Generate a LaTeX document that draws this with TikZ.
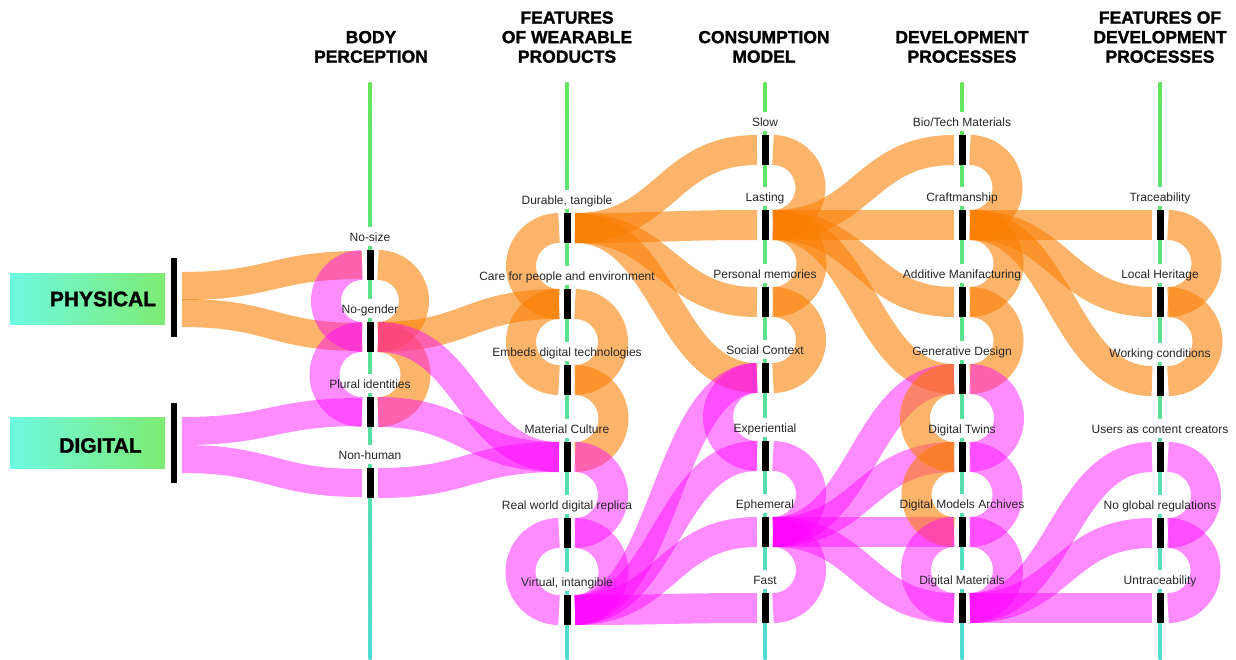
\documentclass[tikz,border=0pt]{standalone}
\usepackage{fontspec}
\setmainfont{Liberation Sans}
\newfontfamily\heavyfont[FakeBold=1.4]{Liberation Sans Bold}
\usetikzlibrary{calc}

\definecolor{physcol}{RGB}{250,125,0}
\definecolor{digicol}{RGB}{255,0,255}
\definecolor{axgreen}{RGB}{100,230,90}
\definecolor{axcyan}{RGB}{80,220,210}
\definecolor{boxcyan}{RGB}{110,250,225}
\definecolor{boxgreen}{RGB}{125,235,115}

\tikzset{
  axisline/.style={top color=axgreen, bottom color=axcyan},
  itembar/.style={rectangle, fill=black, minimum width=7pt, minimum height=30pt, inner sep=0pt, outer xsep=4.5pt},
  catbar/.style={rectangle, fill=black, minimum width=6pt, inner sep=0pt},
  catbox/.style={rectangle, minimum width=155pt, minimum height=51pt, inner sep=0pt, left color=boxcyan, right color=boxgreen},
  cattext/.style={font=\heavyfont\fontsize{21}{21}\selectfont, inner sep=0pt},
  head/.style={font=\heavyfont\fontsize{17.5}{19.5}\selectfont, align=center, inner sep=0pt, anchor=south},
  tag/.style={font=\fontsize{12}{14}\selectfont, text=black!85, inner sep=0pt, anchor=base},
  physflow/.style={draw=physcol, opacity=0.58, line width=30pt},
  digiflow/.style={draw=digicol, opacity=0.45, line width=30pt}
}

% A flow from one bar to the next column, and a loop between two bars of one column.
\newcommand{\band}[3]{\draw[#3] let \p1=#1, \p2=#2 in (\p1) .. controls (\x1/2+\x2/2,\y1) and (\x1/2+\x2/2,\y2) .. (\p2);}
\newcommand{\ringR}[3]{\draw[#3] let \p1=#1, \p2=#2, \n1={(\y1-\y2)/2} in (\p1) arc[start angle=90, end angle=-90, radius=\n1];}
\newcommand{\ringL}[3]{\draw[#3] let \p1=#1, \p2=#2, \n1={(\y1-\y2)/2} in (\p1) arc[start angle=90, end angle=270, radius=\n1];}

\begin{document}
\begin{tikzpicture}[x=1pt, y=1pt]
        \useasboundingbox (0,0) rectangle (1236,-659);
        % Draw the axes.
        \shade[axisline] (368.5,-82) rectangle (371.5,-659);
        \shade[axisline] (565.5,-82) rectangle (568.5,-659);
        \shade[axisline] (763.5,-82) rectangle (766.5,-659);
        \shade[axisline] (960.5,-82) rectangle (963.5,-659);
        \shade[axisline] (1158.5,-82) rectangle (1161.5,-659);
        % Specify the headings.
        \node[head] (bodyhead) at (371,-63) {BODY\\PERCEPTION};
        \node[head] (wearhead) at (567,-63) {FEATURES\\OF WEARABLE\\PRODUCTS};
        \node[head] (conshead) at (764,-63) {CONSUMPTION\\MODEL};
        \node[head] (devhead) at (962,-63) {DEVELOPMENT\\PROCESSES};
        \node[head] (feathead) at (1160,-63) {FEATURES OF\\DEVELOPMENT\\PROCESSES};
        % Specify the sources.
        \node[catbox] (physical) at (87.5,-298.7) {};
        \node[cattext] (physicaltext) at (103,-299) {PHYSICAL};
        \node[catbar, minimum height=79pt] (physbar) at (174,-297.8) {};
        \node[catbox] (digital) at (87.5,-443.3) {};
        \node[cattext] (digitaltext) at (100.5,-445.5) {DIGITAL};
        \node[catbar, minimum height=80pt] (digibar) at (174,-443.3) {};
        \coordinate (physa) at (182,-286);
        \coordinate (physb) at (182,-313);
        \coordinate (digia) at (182,-431);
        \coordinate (digib) at (182,-459);
        % Specify the body perception bars.
        \node[itembar] (nosize) at (370,-265) {};
        \node[itembar] (nogender) at (370,-337) {};
        \node[itembar] (plural) at (370,-412) {};
        \node[itembar] (nonhuman) at (370,-483) {};
        % Specify the wearable product bars.
        \node[itembar] (durable) at (567,-228) {};
        \node[itembar] (care) at (567,-304) {};
        \node[itembar] (embeds) at (567,-380) {};
        \node[itembar] (material) at (567,-457) {};
        \node[itembar] (replica) at (567,-533) {};
        \node[itembar] (virtual) at (567,-610) {};
        % Specify the consumption model bars.
        \node[itembar] (slow) at (765,-150) {};
        \node[itembar] (lasting) at (765,-225) {};
        \node[itembar] (memories) at (765,-302) {};
        \node[itembar] (social) at (765,-378) {};
        \node[itembar] (experiential) at (765,-456) {};
        \node[itembar] (ephemeral) at (765,-532) {};
        \node[itembar] (fast) at (765,-608) {};
        % Specify the development process bars.
        \node[itembar] (biotech) at (962,-150) {};
        \node[itembar] (craft) at (962,-225) {};
        \node[itembar] (additive) at (962,-302) {};
        \node[itembar] (generative) at (962,-379) {};
        \node[itembar] (twins) at (962,-457) {};
        \node[itembar] (archives) at (962,-532) {};
        \node[itembar] (digmat) at (962,-608) {};
        % Specify the development feature bars.
        \node[itembar] (trace) at (1160,-225) {};
        \node[itembar] (heritage) at (1160,-302) {};
        \node[itembar] (working) at (1160,-381) {};
        \node[itembar] (users) at (1160,-457) {};
        \node[itembar] (noglobal) at (1160,-533) {};
        \node[itembar] (untrace) at (1160,-608) {};
        % Draw the flows from the sources.
        \band{(physa)}{(nosize.west)}{physflow, line width=28pt}
        \band{(physb)}{(nogender.west)}{physflow, line width=28pt}
        \band{(digia)}{(plural.west)}{digiflow, line width=28pt}
        \band{(digib)}{(nonhuman.west)}{digiflow, line width=28pt}
        % Draw the body perception loops and flows.
        \ringL{(nosize.west)}{(nogender.west)}{digiflow}
        \ringL{(nogender.west)}{(plural.west)}{digiflow}
        \ringR{(nosize.east)}{(nogender.east)}{physflow}
        \ringR{(nogender.east)}{(plural.east)}{physflow}
        \band{(nogender.east)}{(care.west)}{physflow}
        \band{(nogender.east)}{(material.west)}{digiflow}
        \band{(plural.east)}{(material.west)}{digiflow}
        \band{(nonhuman.east)}{(material.west)}{digiflow}
        % Draw the wearable product loops and flows.
        \ringL{(durable.west)}{(care.west)}{physflow}
        \ringL{(care.west)}{(embeds.west)}{physflow}
        \ringL{(replica.west)}{(virtual.west)}{digiflow}
        \ringR{(care.east)}{(embeds.east)}{physflow}
        \ringR{(embeds.east)}{(material.east)}{physflow}
        \ringR{(material.east)}{(replica.east)}{digiflow}
        \ringR{(replica.east)}{(virtual.east)}{digiflow}
        \band{(durable.east)}{(slow.west)}{physflow}
        \band{(durable.east)}{(lasting.west)}{physflow}
        \band{(durable.east)}{(memories.west)}{physflow}
        \band{(durable.east)}{(social.west)}{physflow}
        \band{(virtual.east)}{(social.west)}{digiflow}
        \band{(virtual.east)}{(experiential.west)}{digiflow}
        \band{(virtual.east)}{(ephemeral.west)}{digiflow}
        \band{(virtual.east)}{(fast.west)}{digiflow}
        % Draw the consumption model loops and flows.
        \ringL{(social.west)}{(experiential.west)}{digiflow}
        \ringR{(slow.east)}{(lasting.east)}{physflow}
        \ringR{(lasting.east)}{(memories.east)}{physflow}
        \ringR{(memories.east)}{(social.east)}{physflow}
        \ringR{(experiential.east)}{(ephemeral.east)}{digiflow}
        \ringR{(ephemeral.east)}{(fast.east)}{digiflow}
        \band{(lasting.east)}{(biotech.west)}{physflow}
        \band{(lasting.east)}{(craft.west)}{physflow}
        \band{(lasting.east)}{(additive.west)}{physflow}
        \band{(lasting.east)}{(generative.west)}{physflow}
        \band{(ephemeral.east)}{(generative.west)}{digiflow}
        \band{(ephemeral.east)}{(twins.west)}{digiflow}
        \band{(ephemeral.east)}{(archives.west)}{digiflow}
        \band{(ephemeral.east)}{(digmat.west)}{digiflow}
        % Draw the development process loops and flows.
        \ringL{(generative.west)}{(twins.west)}{physflow}
        \ringL{(twins.west)}{(archives.west)}{physflow}
        \ringL{(archives.west)}{(digmat.west)}{digiflow}
        \ringR{(biotech.east)}{(craft.east)}{physflow}
        \ringR{(craft.east)}{(additive.east)}{physflow}
        \ringR{(additive.east)}{(generative.east)}{physflow}
        \ringR{(generative.east)}{(twins.east)}{digiflow}
        \ringR{(twins.east)}{(archives.east)}{digiflow}
        \ringR{(archives.east)}{(digmat.east)}{digiflow}
        \band{(craft.east)}{(trace.west)}{physflow}
        \band{(craft.east)}{(heritage.west)}{physflow}
        \band{(craft.east)}{(working.west)}{physflow}
        \band{(digmat.east)}{(users.west)}{digiflow}
        \band{(digmat.east)}{(noglobal.west)}{digiflow}
        \band{(digmat.east)}{(untrace.west)}{digiflow}
        % Draw the development feature loops.
        \ringR{(trace.east)}{(heritage.east)}{physflow}
        \ringR{(heritage.east)}{(working.east)}{physflow}
        \ringR{(users.east)}{(noglobal.east)}{digiflow}
        \ringR{(noglobal.east)}{(untrace.east)}{digiflow}
        % Specify the body perception labels.
        \fill[fill=white] (367,-246) rectangle (373,-227) (370,-241) node[tag] (nosizelab) {No-size};
        \fill[fill=white] (367,-318) rectangle (373,-299) (370,-313) node[tag] (nogenderlab) {No-gender};
        \fill[fill=white] (367,-393) rectangle (373,-374) (370,-388) node[tag] (plurallab) {Plural identities};
        \fill[fill=white] (367,-464) rectangle (373,-445) (370,-459) node[tag] (nonhumanlab) {Non-human};
        % Specify the wearable product labels.
        \fill[fill=white] (564,-209) rectangle (570,-190) (567,-204) node[tag] (durablelab) {Durable, tangible};
        \fill[fill=white] (564,-285) rectangle (570,-266) (567,-280) node[tag] (carelab) {Care for people and environment};
        \fill[fill=white] (564,-361) rectangle (570,-342) (567,-356) node[tag] (embedslab) {Embeds digital technologies};
        \fill[fill=white] (564,-438) rectangle (570,-419) (567,-433) node[tag] (materiallab) {Material Culture};
        \fill[fill=white] (564,-514) rectangle (570,-495) (567,-509) node[tag] (replicalab) {Real world digital replica};
        \fill[fill=white] (564,-591) rectangle (570,-572) (567,-586) node[tag] (virtuallab) {Virtual, intangible};
        % Specify the consumption model labels.
        \fill[fill=white] (762,-131) rectangle (768,-112) (765,-126) node[tag] (slowlab) {Slow};
        \fill[fill=white] (762,-206) rectangle (768,-187) (765,-201) node[tag] (lastinglab) {Lasting};
        \fill[fill=white] (762,-283) rectangle (768,-264) (765,-278) node[tag] (memorieslab) {Personal memories};
        \fill[fill=white] (762,-359) rectangle (768,-340) (765,-354) node[tag] (sociallab) {Social Context};
        \fill[fill=white] (762,-437) rectangle (768,-418) (765,-432) node[tag] (experientiallab) {Experiential};
        \fill[fill=white] (762,-513) rectangle (768,-494) (765,-508) node[tag] (ephemerallab) {Ephemeral};
        \fill[fill=white] (762,-589) rectangle (768,-570) (765,-584) node[tag] (fastlab) {Fast};
        % Specify the development process labels.
        \fill[fill=white] (959,-131) rectangle (965,-112) (962,-126) node[tag] (biotechlab) {Bio/Tech Materials};
        \fill[fill=white] (959,-206) rectangle (965,-187) (962,-201) node[tag] (craftlab) {Craftmanship};
        \fill[fill=white] (959,-283) rectangle (965,-264) (962,-278) node[tag] (additivelab) {Additive Manifacturing};
        \fill[fill=white] (959,-360) rectangle (965,-341) (962,-355) node[tag] (generativelab) {Generative Design};
        \fill[fill=white] (959,-438) rectangle (965,-419) (962,-433) node[tag] (twinslab) {Digital Twins};
        \fill[fill=white] (959,-513) rectangle (965,-494) (962,-508) node[tag] (archiveslab) {Digital Models Archives};
        \fill[fill=white] (959,-589) rectangle (965,-570) (962,-584) node[tag] (digmatlab) {Digital Materials};
        % Specify the development feature labels.
        \fill[fill=white] (1157,-206) rectangle (1163,-187) (1160,-201) node[tag] (tracelab) {Traceability};
        \fill[fill=white] (1157,-283) rectangle (1163,-264) (1160,-278) node[tag] (heritagelab) {Local Heritage};
        \fill[fill=white] (1157,-362) rectangle (1163,-343) (1160,-357) node[tag] (workinglab) {Working conditions};
        \fill[fill=white] (1157,-438) rectangle (1163,-419) (1160,-433) node[tag] (userslab) {Users as content creators};
        \fill[fill=white] (1157,-514) rectangle (1163,-495) (1160,-509) node[tag] (nogloballab) {No global regulations};
        \fill[fill=white] (1157,-589) rectangle (1163,-570) (1160,-584) node[tag] (untracelab) {Untraceability};
\end{tikzpicture}
\end{document}
